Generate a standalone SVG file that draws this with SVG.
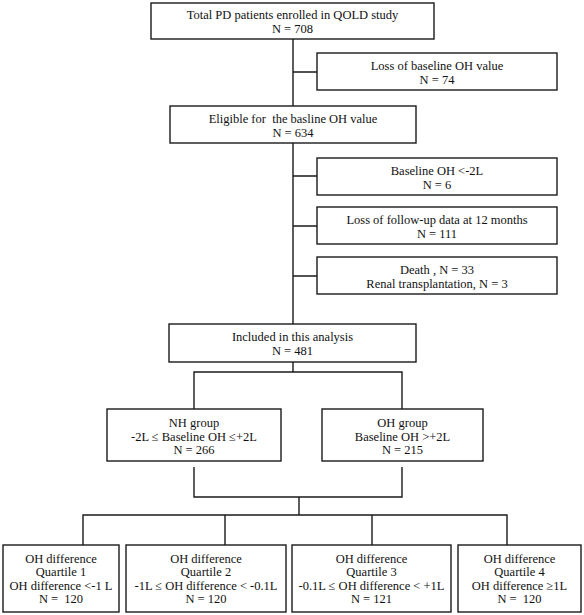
<svg xmlns="http://www.w3.org/2000/svg" width="584" height="615" viewBox="0 0 584 615">
<style>
.box{fill:#fff;stroke:#1a1a1a;stroke-width:1.4}
.ln{fill:none;stroke:#1a1a1a;stroke-width:1.4}
text{font-family:"Liberation Serif","Times New Roman",serif;font-size:12.5px;fill:#111;text-anchor:middle}
</style>
<rect width="584" height="615" fill="#fff"/>
<g id="connectors">
<path class="ln" d="M293,39 V106 M293,143 V324 M293,72 H317 M293,176 H317 M293,226 H317 M293,276 H317"/>
<path class="ln" d="M293,362 V372 M194,409 V372 H402 V409"/>
<path class="ln" d="M194,467 V497 H402 V467 M299,497 V515 M83,545 V515 H507 V545 M225,515 V545 M372,515 V545"/>
</g>
<g id="n-total"><rect class="box" x="151" y="3" width="283" height="36"/><text x="292.5" y="19">Total PD patients enrolled in QOLD study</text><text x="292.5" y="33">N = 708</text></g>
<g id="n-loss"><rect class="box" x="317" y="53" width="240" height="37"/><text x="437" y="69.5">Loss of baseline OH value</text><text x="437" y="83.5">N = 74</text></g>
<g id="n-eligible"><rect class="box" x="170" y="106" width="246" height="37"/><text x="293" y="122.5" xml:space="preserve">Eligible for  the basline OH value</text><text x="293" y="136.5">N = 634</text></g>
<g id="n-baseline"><rect class="box" x="317" y="158" width="240" height="37"/><text x="437" y="174.5">Baseline OH &lt;-2L</text><text x="437" y="188.5">N = 6</text></g>
<g id="n-followup"><rect class="box" x="317" y="207" width="240" height="37"/><text x="437" y="223.5">Loss of follow-up data at 12 months</text><text x="437" y="237.5">N = 111</text></g>
<g id="n-death"><rect class="box" x="317" y="257" width="240" height="37"/><text x="437" y="273.5">Death , N = 33</text><text x="437" y="287.5">Renal transplantation, N = 3</text></g>
<g id="n-included"><rect class="box" x="169" y="324" width="247" height="38"/><text x="292.5" y="341">Included in this analysis</text><text x="292.5" y="355">N = 481</text></g>
<g id="n-nh"><rect class="box" x="107" y="409" width="174" height="52"/><text x="194" y="427">NH group</text><text x="194" y="440.5">-2L ≤ Baseline OH ≤+2L</text><text x="194" y="454">N = 266</text></g>
<g id="n-oh"><rect class="box" x="322" y="409" width="161" height="52"/><text x="402.5" y="427">OH group</text><text x="402.5" y="440.5">Baseline OH &gt;+2L</text><text x="402.5" y="454">N = 215</text></g>
<g id="n-q1"><rect class="box" x="3" y="545" width="116" height="67"/><text x="61" y="562.5">OH difference</text><text x="61" y="576">Quartile 1</text><text x="61" y="589.5">OH difference &lt;-1 L</text><text x="61" y="603" xml:space="preserve">N =  120</text></g>
<g id="n-q2"><rect class="box" x="126" y="545" width="160" height="67"/><text x="206" y="562.5">OH difference</text><text x="206" y="576">Quartile 2</text><text x="206" y="589.5">-1L ≤ OH difference &lt; -0.1L</text><text x="206" y="603">N = 120</text></g>
<g id="n-q3"><rect class="box" x="292" y="545" width="159" height="67"/><text x="371.5" y="562.5">OH difference</text><text x="371.5" y="576">Quartile 3</text><text x="371.5" y="589.5">-0.1L ≤ OH difference &lt; +1L</text><text x="371.5" y="603">N = 121</text></g>
<g id="n-q4"><rect class="box" x="458" y="545" width="123" height="67"/><text x="519.5" y="562.5">OH difference</text><text x="519.5" y="576">Quartile 4</text><text x="519.5" y="589.5">OH difference ≥1L</text><text x="519.5" y="603" xml:space="preserve">N =  120</text></g>
</svg>
